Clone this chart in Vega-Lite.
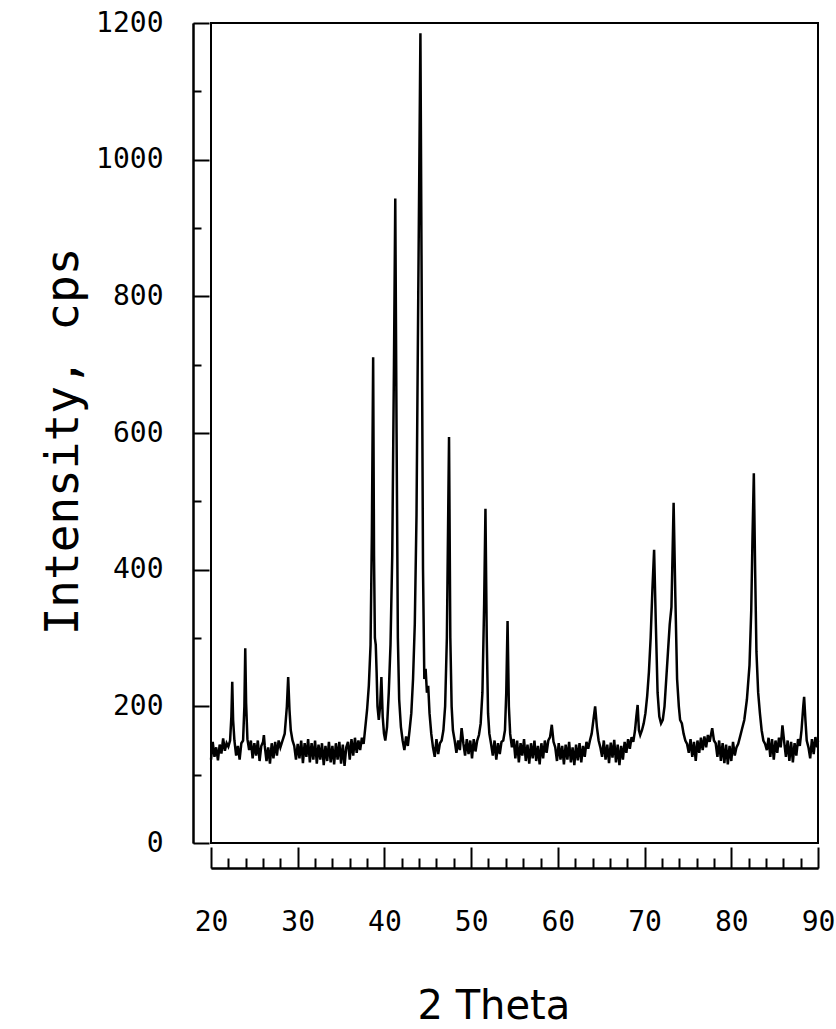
{
  "$schema": "https://vega.github.io/schema/vega-lite/v6.json",
  "width": 607,
  "height": 820,
  "autosize": {"type": "none"},
  "padding": {"left": 211, "top": 23, "right": 18, "bottom": 186},
  "background": "white",
  "config": {
    "view": {"stroke": "black", "strokeWidth": 2},
    "axis": {
      "grid": false,
      "domainColor": "black",
      "domainWidth": 2,
      "tickColor": "black",
      "tickWidth": 2,
      "labelColor": "black",
      "titleColor": "black",
      "labelFont": "DejaVu Sans Mono",
      "titleFont": "DejaVu Sans Mono",
      "labelFontSize": 28,
      "titleFontWeight": "normal",
      "labelFlush": false,
      "labelOverlap": false
    }
  },
  "data": {
    "values": [
      {"t": 20.0, "i": 122}, {"t": 20.2, "i": 148}, {"t": 20.4, "i": 126}, {"t": 20.6, "i": 140}, {"t": 20.8, "i": 121},
      {"t": 21.0, "i": 144}, {"t": 21.2, "i": 131}, {"t": 21.4, "i": 153}, {"t": 21.6, "i": 135}, {"t": 21.8, "i": 146},
      {"t": 22.0, "i": 141}, {"t": 22.2, "i": 150}, {"t": 22.35, "i": 185}, {"t": 22.45, "i": 236}, {"t": 22.55, "i": 180},
      {"t": 22.7, "i": 150}, {"t": 22.9, "i": 128}, {"t": 23.1, "i": 142}, {"t": 23.3, "i": 122}, {"t": 23.5, "i": 146},
      {"t": 23.7, "i": 150}, {"t": 23.85, "i": 200}, {"t": 23.95, "i": 285}, {"t": 24.05, "i": 205}, {"t": 24.2, "i": 152},
      {"t": 24.4, "i": 136}, {"t": 24.6, "i": 150}, {"t": 24.8, "i": 124}, {"t": 25.0, "i": 146}, {"t": 25.2, "i": 128},
      {"t": 25.4, "i": 150}, {"t": 25.6, "i": 120}, {"t": 25.8, "i": 142}, {"t": 26.0, "i": 148}, {"t": 26.1, "i": 158},
      {"t": 26.2, "i": 142}, {"t": 26.4, "i": 120}, {"t": 26.6, "i": 140}, {"t": 26.8, "i": 116}, {"t": 27.0, "i": 146},
      {"t": 27.2, "i": 124}, {"t": 27.4, "i": 148}, {"t": 27.6, "i": 128}, {"t": 27.8, "i": 150}, {"t": 28.0, "i": 140},
      {"t": 28.2, "i": 148}, {"t": 28.5, "i": 160}, {"t": 28.75, "i": 200}, {"t": 28.9, "i": 243}, {"t": 29.05, "i": 195},
      {"t": 29.2, "i": 165}, {"t": 29.4, "i": 150}, {"t": 29.6, "i": 142}, {"t": 29.8, "i": 122}, {"t": 30.0, "i": 145},
      {"t": 30.2, "i": 124}, {"t": 30.4, "i": 150}, {"t": 30.6, "i": 117}, {"t": 30.8, "i": 146}, {"t": 31.0, "i": 126},
      {"t": 31.2, "i": 152}, {"t": 31.4, "i": 118}, {"t": 31.6, "i": 146}, {"t": 31.8, "i": 122}, {"t": 32.0, "i": 150},
      {"t": 32.2, "i": 116}, {"t": 32.4, "i": 144}, {"t": 32.6, "i": 122}, {"t": 32.8, "i": 146}, {"t": 33.0, "i": 114},
      {"t": 33.2, "i": 142}, {"t": 33.4, "i": 120}, {"t": 33.6, "i": 148}, {"t": 33.8, "i": 118}, {"t": 34.0, "i": 142},
      {"t": 34.2, "i": 115}, {"t": 34.4, "i": 146}, {"t": 34.6, "i": 122}, {"t": 34.8, "i": 148}, {"t": 35.0, "i": 116},
      {"t": 35.2, "i": 144}, {"t": 35.4, "i": 113}, {"t": 35.6, "i": 140}, {"t": 35.8, "i": 148}, {"t": 36.0, "i": 122},
      {"t": 36.2, "i": 152}, {"t": 36.4, "i": 128}, {"t": 36.6, "i": 154}, {"t": 36.8, "i": 132}, {"t": 37.0, "i": 150},
      {"t": 37.2, "i": 136}, {"t": 37.4, "i": 154}, {"t": 37.6, "i": 145}, {"t": 37.8, "i": 170}, {"t": 38.0, "i": 195},
      {"t": 38.2, "i": 230}, {"t": 38.4, "i": 290}, {"t": 38.55, "i": 450}, {"t": 38.7, "i": 711}, {"t": 38.8, "i": 420},
      {"t": 38.9, "i": 300}, {"t": 39.0, "i": 290}, {"t": 39.1, "i": 250}, {"t": 39.2, "i": 200}, {"t": 39.35, "i": 180},
      {"t": 39.5, "i": 200}, {"t": 39.65, "i": 243}, {"t": 39.8, "i": 185}, {"t": 39.95, "i": 160}, {"t": 40.1, "i": 150},
      {"t": 40.3, "i": 170}, {"t": 40.5, "i": 220}, {"t": 40.7, "i": 290}, {"t": 40.9, "i": 420}, {"t": 41.1, "i": 700},
      {"t": 41.25, "i": 943}, {"t": 41.4, "i": 600}, {"t": 41.55, "i": 300}, {"t": 41.7, "i": 210}, {"t": 41.9, "i": 170},
      {"t": 42.1, "i": 150}, {"t": 42.3, "i": 136}, {"t": 42.5, "i": 156}, {"t": 42.7, "i": 142}, {"t": 42.9, "i": 165},
      {"t": 43.1, "i": 190}, {"t": 43.3, "i": 240}, {"t": 43.5, "i": 320}, {"t": 43.7, "i": 480}, {"t": 43.9, "i": 800},
      {"t": 44.15, "i": 1185}, {"t": 44.3, "i": 800}, {"t": 44.45, "i": 400}, {"t": 44.6, "i": 240}, {"t": 44.75, "i": 255},
      {"t": 44.9, "i": 220}, {"t": 45.05, "i": 230}, {"t": 45.2, "i": 190}, {"t": 45.4, "i": 160}, {"t": 45.6, "i": 140},
      {"t": 45.8, "i": 126}, {"t": 46.0, "i": 152}, {"t": 46.2, "i": 130}, {"t": 46.4, "i": 146}, {"t": 46.6, "i": 150},
      {"t": 46.8, "i": 165}, {"t": 47.0, "i": 200}, {"t": 47.2, "i": 300}, {"t": 47.45, "i": 594}, {"t": 47.6, "i": 300},
      {"t": 47.75, "i": 200}, {"t": 47.9, "i": 165}, {"t": 48.1, "i": 150}, {"t": 48.3, "i": 132}, {"t": 48.5, "i": 150},
      {"t": 48.7, "i": 136}, {"t": 48.9, "i": 168}, {"t": 49.1, "i": 146}, {"t": 49.3, "i": 128}, {"t": 49.5, "i": 152},
      {"t": 49.7, "i": 130}, {"t": 49.9, "i": 150}, {"t": 50.1, "i": 124}, {"t": 50.3, "i": 152}, {"t": 50.5, "i": 134},
      {"t": 50.7, "i": 150}, {"t": 50.9, "i": 158}, {"t": 51.1, "i": 175}, {"t": 51.3, "i": 220}, {"t": 51.5, "i": 350},
      {"t": 51.65, "i": 489}, {"t": 51.8, "i": 300}, {"t": 51.95, "i": 190}, {"t": 52.1, "i": 160}, {"t": 52.3, "i": 145},
      {"t": 52.5, "i": 128}, {"t": 52.7, "i": 150}, {"t": 52.9, "i": 122}, {"t": 53.1, "i": 146}, {"t": 53.3, "i": 130},
      {"t": 53.5, "i": 148}, {"t": 53.7, "i": 150}, {"t": 53.9, "i": 165}, {"t": 54.05, "i": 220}, {"t": 54.2, "i": 325},
      {"t": 54.35, "i": 200}, {"t": 54.5, "i": 160}, {"t": 54.7, "i": 140}, {"t": 54.9, "i": 152}, {"t": 55.1, "i": 124},
      {"t": 55.3, "i": 150}, {"t": 55.5, "i": 118}, {"t": 55.7, "i": 146}, {"t": 55.9, "i": 128}, {"t": 56.1, "i": 152},
      {"t": 56.3, "i": 120}, {"t": 56.5, "i": 144}, {"t": 56.7, "i": 116}, {"t": 56.9, "i": 146}, {"t": 57.1, "i": 124},
      {"t": 57.3, "i": 150}, {"t": 57.5, "i": 120}, {"t": 57.7, "i": 142}, {"t": 57.9, "i": 115}, {"t": 58.1, "i": 146},
      {"t": 58.3, "i": 124}, {"t": 58.5, "i": 150}, {"t": 58.7, "i": 132}, {"t": 58.9, "i": 150}, {"t": 59.1, "i": 155},
      {"t": 59.3, "i": 173}, {"t": 59.5, "i": 148}, {"t": 59.7, "i": 140}, {"t": 59.9, "i": 120}, {"t": 60.1, "i": 146},
      {"t": 60.3, "i": 122}, {"t": 60.5, "i": 142}, {"t": 60.7, "i": 115}, {"t": 60.9, "i": 144}, {"t": 61.1, "i": 122},
      {"t": 61.3, "i": 148}, {"t": 61.5, "i": 118}, {"t": 61.7, "i": 140}, {"t": 61.9, "i": 114}, {"t": 62.1, "i": 144},
      {"t": 62.3, "i": 121}, {"t": 62.5, "i": 146}, {"t": 62.7, "i": 118}, {"t": 62.9, "i": 142}, {"t": 63.1, "i": 126},
      {"t": 63.3, "i": 148}, {"t": 63.5, "i": 138}, {"t": 63.7, "i": 150}, {"t": 63.9, "i": 160}, {"t": 64.1, "i": 180},
      {"t": 64.3, "i": 200}, {"t": 64.5, "i": 170}, {"t": 64.7, "i": 150}, {"t": 64.9, "i": 140}, {"t": 65.1, "i": 126},
      {"t": 65.3, "i": 150}, {"t": 65.5, "i": 122}, {"t": 65.7, "i": 144}, {"t": 65.9, "i": 117}, {"t": 66.1, "i": 147},
      {"t": 66.3, "i": 125}, {"t": 66.5, "i": 151}, {"t": 66.7, "i": 118}, {"t": 66.9, "i": 144}, {"t": 67.1, "i": 114},
      {"t": 67.3, "i": 142}, {"t": 67.5, "i": 122}, {"t": 67.7, "i": 148}, {"t": 67.9, "i": 132}, {"t": 68.1, "i": 152},
      {"t": 68.3, "i": 138}, {"t": 68.5, "i": 155}, {"t": 68.7, "i": 148}, {"t": 68.9, "i": 165}, {"t": 69.05, "i": 185},
      {"t": 69.2, "i": 202}, {"t": 69.35, "i": 165}, {"t": 69.5, "i": 158}, {"t": 69.7, "i": 165}, {"t": 69.9, "i": 175},
      {"t": 70.1, "i": 190}, {"t": 70.3, "i": 215}, {"t": 70.5, "i": 250}, {"t": 70.7, "i": 300}, {"t": 70.9, "i": 370},
      {"t": 71.1, "i": 429}, {"t": 71.3, "i": 320}, {"t": 71.5, "i": 220}, {"t": 71.7, "i": 185}, {"t": 71.9, "i": 175},
      {"t": 72.1, "i": 180}, {"t": 72.3, "i": 200}, {"t": 72.5, "i": 240}, {"t": 72.7, "i": 280}, {"t": 72.9, "i": 320},
      {"t": 73.1, "i": 345}, {"t": 73.35, "i": 498}, {"t": 73.55, "i": 360}, {"t": 73.75, "i": 240}, {"t": 73.95, "i": 200},
      {"t": 74.1, "i": 180}, {"t": 74.3, "i": 175}, {"t": 74.5, "i": 160}, {"t": 74.7, "i": 150}, {"t": 74.9, "i": 145},
      {"t": 75.1, "i": 132}, {"t": 75.3, "i": 152}, {"t": 75.5, "i": 126}, {"t": 75.7, "i": 148}, {"t": 75.9, "i": 120},
      {"t": 76.1, "i": 150}, {"t": 76.3, "i": 132}, {"t": 76.5, "i": 154}, {"t": 76.7, "i": 136}, {"t": 76.9, "i": 156},
      {"t": 77.1, "i": 140}, {"t": 77.3, "i": 158}, {"t": 77.5, "i": 148}, {"t": 77.8, "i": 168}, {"t": 78.0, "i": 150},
      {"t": 78.2, "i": 146}, {"t": 78.4, "i": 126}, {"t": 78.6, "i": 150}, {"t": 78.8, "i": 120}, {"t": 79.0, "i": 146},
      {"t": 79.2, "i": 117}, {"t": 79.4, "i": 144}, {"t": 79.6, "i": 115}, {"t": 79.8, "i": 142}, {"t": 80.0, "i": 120},
      {"t": 80.2, "i": 148}, {"t": 80.4, "i": 128}, {"t": 80.6, "i": 140}, {"t": 80.8, "i": 145}, {"t": 81.0, "i": 155},
      {"t": 81.2, "i": 165}, {"t": 81.5, "i": 180}, {"t": 81.8, "i": 210}, {"t": 82.1, "i": 260}, {"t": 82.3, "i": 340},
      {"t": 82.45, "i": 450}, {"t": 82.6, "i": 541}, {"t": 82.75, "i": 400}, {"t": 82.9, "i": 280}, {"t": 83.1, "i": 220},
      {"t": 83.3, "i": 190}, {"t": 83.5, "i": 165}, {"t": 83.7, "i": 150}, {"t": 83.9, "i": 145}, {"t": 84.1, "i": 136},
      {"t": 84.3, "i": 154}, {"t": 84.5, "i": 126}, {"t": 84.7, "i": 152}, {"t": 84.9, "i": 122}, {"t": 85.1, "i": 150},
      {"t": 85.3, "i": 132}, {"t": 85.5, "i": 154}, {"t": 85.7, "i": 140}, {"t": 85.9, "i": 172}, {"t": 86.1, "i": 148},
      {"t": 86.3, "i": 126}, {"t": 86.5, "i": 150}, {"t": 86.7, "i": 120}, {"t": 86.9, "i": 148}, {"t": 87.1, "i": 118},
      {"t": 87.3, "i": 146}, {"t": 87.5, "i": 128}, {"t": 87.7, "i": 152}, {"t": 87.9, "i": 142}, {"t": 88.1, "i": 165},
      {"t": 88.3, "i": 200}, {"t": 88.4, "i": 214}, {"t": 88.55, "i": 180}, {"t": 88.7, "i": 150}, {"t": 88.9, "i": 140},
      {"t": 89.1, "i": 124}, {"t": 89.3, "i": 152}, {"t": 89.5, "i": 130}, {"t": 89.7, "i": 155}, {"t": 89.9, "i": 140},
      {"t": 90.0, "i": 150}
    ]
  },
  "layer": [
    {
      "mark": {"type": "line", "color": "black", "strokeWidth": 2.5},
      "encoding": {
        "x": {
          "field": "t", "type": "quantitative",
          "scale": {"domain": [20, 90], "nice": false, "zero": false},
          "axis": {
            "orient": "bottom", "offset": 25,
            "values": [20, 30, 40, 50, 60, 70, 80, 90],
            "tickSize": -21, "labelPadding": 61,
            "title": "2 Theta",
            "titleFont": "DejaVu Sans", "titleFontSize": 40,
            "titleAlign": "left", "titleBaseline": "alphabetic",
            "titleX": 206, "titleY": 150
          }
        },
        "y": {
          "field": "i", "type": "quantitative",
          "scale": {"domain": [0, 1200], "nice": false},
          "axis": {
            "orient": "left", "offset": 18,
            "values": [0, 200, 400, 600, 800, 1000, 1200],
            "format": "d",
            "tickSize": -16, "labelPadding": 46,
            "title": "Intensity, cps",
            "titleFontSize": 46, "titleAngle": -90,
            "titleAlign": "center", "titleBaseline": "alphabetic",
            "titleX": -116, "titleY": 418
          }
        }
      }
    },
    {
      "mark": {"type": "line", "strokeOpacity": 0},
      "encoding": {
        "x": {
          "field": "t", "type": "quantitative",
          "axis": {
            "orient": "bottom", "offset": 25,
            "values": [22, 24, 26, 28, 32, 34, 36, 38, 42, 44, 46, 48, 52, 54, 56, 58, 62, 64, 66, 68, 72, 74, 76, 78, 82, 84, 86, 88],
            "tickSize": -10, "labels": false, "title": null
          }
        },
        "y": {
          "field": "i", "type": "quantitative",
          "axis": {
            "orient": "left", "offset": 18,
            "values": [100, 300, 500, 700, 900, 1100],
            "tickSize": -8, "labels": false, "title": null
          }
        }
      }
    }
  ],
  "resolve": {"axis": {"x": "independent", "y": "independent"}}
}
